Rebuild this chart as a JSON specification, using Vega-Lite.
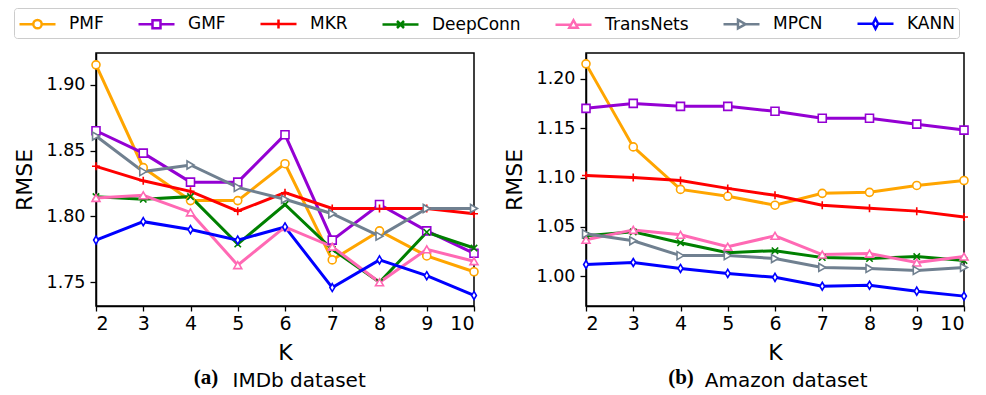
{
  "$schema": "https://vega.github.io/schema/vega-lite/v6.json",
  "padding": {"left": 12, "top": 7, "right": 5, "bottom": 0},
  "background": "white",
  "spacing": 20,
  "resolve": {"scale": {"x": "independent", "y": "independent"}},
  "config": {
    "view": {"stroke": "black", "strokeWidth": 1.5},
    "axis": {"domainColor": "black", "domainWidth": 1.5, "tickColor": "black", "tickWidth": 1.3, "labelColor": "black", "labelFont": "DejaVu Sans", "titleFont": "DejaVu Sans", "titleFontSize": 22, "titleFontWeight": "normal", "titleColor": "black", "grid": false},
    "axisX": {"titlePadding": 9, "labelFontSize": 19, "tickSize": 5, "labelPadding": 3},
    "axisY": {"titlePadding": 10, "labelFontSize": 17.5, "tickSize": 6, "labelPadding": 5},
    "title": {"color": "black"}
  },
  "datasets": {
    "imdb": [
      {"model":"PMF","K":2,"rmse":1.915},{"model":"PMF","K":3,"rmse":1.837},{"model":"PMF","K":4,"rmse":1.812},{"model":"PMF","K":5,"rmse":1.812},{"model":"PMF","K":6,"rmse":1.840},{"model":"PMF","K":7,"rmse":1.767},{"model":"PMF","K":8,"rmse":1.789},{"model":"PMF","K":9,"rmse":1.770},{"model":"PMF","K":10,"rmse":1.758},
      {"model":"GMF","K":2,"rmse":1.865},{"model":"GMF","K":3,"rmse":1.848},{"model":"GMF","K":4,"rmse":1.826},{"model":"GMF","K":5,"rmse":1.826},{"model":"GMF","K":6,"rmse":1.862},{"model":"GMF","K":7,"rmse":1.782},{"model":"GMF","K":8,"rmse":1.809},{"model":"GMF","K":9,"rmse":1.789},{"model":"GMF","K":10,"rmse":1.772},
      {"model":"MKR","K":2,"rmse":1.838},{"model":"MKR","K":3,"rmse":1.827},{"model":"MKR","K":4,"rmse":1.819},{"model":"MKR","K":5,"rmse":1.804},{"model":"MKR","K":6,"rmse":1.818},{"model":"MKR","K":7,"rmse":1.806},{"model":"MKR","K":8,"rmse":1.806},{"model":"MKR","K":9,"rmse":1.806},{"model":"MKR","K":10,"rmse":1.802},
      {"model":"DeepConn","K":2,"rmse":1.815},{"model":"DeepConn","K":3,"rmse":1.813},{"model":"DeepConn","K":4,"rmse":1.815},{"model":"DeepConn","K":5,"rmse":1.779},{"model":"DeepConn","K":6,"rmse":1.809},{"model":"DeepConn","K":7,"rmse":1.775},{"model":"DeepConn","K":8,"rmse":1.750},{"model":"DeepConn","K":9,"rmse":1.788},{"model":"DeepConn","K":10,"rmse":1.776},
      {"model":"TransNets","K":2,"rmse":1.814},{"model":"TransNets","K":3,"rmse":1.816},{"model":"TransNets","K":4,"rmse":1.803},{"model":"TransNets","K":5,"rmse":1.763},{"model":"TransNets","K":6,"rmse":1.792},{"model":"TransNets","K":7,"rmse":1.777},{"model":"TransNets","K":8,"rmse":1.750},{"model":"TransNets","K":9,"rmse":1.775},{"model":"TransNets","K":10,"rmse":1.766},
      {"model":"MPCN","K":2,"rmse":1.861},{"model":"MPCN","K":3,"rmse":1.834},{"model":"MPCN","K":4,"rmse":1.839},{"model":"MPCN","K":5,"rmse":1.822},{"model":"MPCN","K":6,"rmse":1.813},{"model":"MPCN","K":7,"rmse":1.802},{"model":"MPCN","K":8,"rmse":1.785},{"model":"MPCN","K":9,"rmse":1.806},{"model":"MPCN","K":10,"rmse":1.806},
      {"model":"KANN","K":2,"rmse":1.782},{"model":"KANN","K":3,"rmse":1.796},{"model":"KANN","K":4,"rmse":1.790},{"model":"KANN","K":5,"rmse":1.782},{"model":"KANN","K":6,"rmse":1.792},{"model":"KANN","K":7,"rmse":1.746},{"model":"KANN","K":8,"rmse":1.767},{"model":"KANN","K":9,"rmse":1.755},{"model":"KANN","K":10,"rmse":1.740}
    ],
    "amazon": [
      {"model":"PMF","K":2,"rmse":1.215},{"model":"PMF","K":3,"rmse":1.131},{"model":"PMF","K":4,"rmse":1.088},{"model":"PMF","K":5,"rmse":1.081},{"model":"PMF","K":6,"rmse":1.072},{"model":"PMF","K":7,"rmse":1.084},{"model":"PMF","K":8,"rmse":1.085},{"model":"PMF","K":9,"rmse":1.092},{"model":"PMF","K":10,"rmse":1.097},
      {"model":"GMF","K":2,"rmse":1.170},{"model":"GMF","K":3,"rmse":1.175},{"model":"GMF","K":4,"rmse":1.172},{"model":"GMF","K":5,"rmse":1.172},{"model":"GMF","K":6,"rmse":1.167},{"model":"GMF","K":7,"rmse":1.160},{"model":"GMF","K":8,"rmse":1.160},{"model":"GMF","K":9,"rmse":1.154},{"model":"GMF","K":10,"rmse":1.148},
      {"model":"MKR","K":2,"rmse":1.102},{"model":"MKR","K":3,"rmse":1.100},{"model":"MKR","K":4,"rmse":1.097},{"model":"MKR","K":5,"rmse":1.089},{"model":"MKR","K":6,"rmse":1.082},{"model":"MKR","K":7,"rmse":1.072},{"model":"MKR","K":8,"rmse":1.069},{"model":"MKR","K":9,"rmse":1.066},{"model":"MKR","K":10,"rmse":1.060},
      {"model":"DeepConn","K":2,"rmse":1.041},{"model":"DeepConn","K":3,"rmse":1.045},{"model":"DeepConn","K":4,"rmse":1.034},{"model":"DeepConn","K":5,"rmse":1.024},{"model":"DeepConn","K":6,"rmse":1.026},{"model":"DeepConn","K":7,"rmse":1.019},{"model":"DeepConn","K":8,"rmse":1.018},{"model":"DeepConn","K":9,"rmse":1.020},{"model":"DeepConn","K":10,"rmse":1.016},
      {"model":"TransNets","K":2,"rmse":1.037},{"model":"TransNets","K":3,"rmse":1.047},{"model":"TransNets","K":4,"rmse":1.042},{"model":"TransNets","K":5,"rmse":1.030},{"model":"TransNets","K":6,"rmse":1.041},{"model":"TransNets","K":7,"rmse":1.022},{"model":"TransNets","K":8,"rmse":1.023},{"model":"TransNets","K":9,"rmse":1.014},{"model":"TransNets","K":10,"rmse":1.020},
      {"model":"MPCN","K":2,"rmse":1.043},{"model":"MPCN","K":3,"rmse":1.036},{"model":"MPCN","K":4,"rmse":1.021},{"model":"MPCN","K":5,"rmse":1.021},{"model":"MPCN","K":6,"rmse":1.018},{"model":"MPCN","K":7,"rmse":1.009},{"model":"MPCN","K":8,"rmse":1.008},{"model":"MPCN","K":9,"rmse":1.006},{"model":"MPCN","K":10,"rmse":1.009},
      {"model":"KANN","K":2,"rmse":1.012},{"model":"KANN","K":3,"rmse":1.014},{"model":"KANN","K":4,"rmse":1.008},{"model":"KANN","K":5,"rmse":1.003},{"model":"KANN","K":6,"rmse":0.999},{"model":"KANN","K":7,"rmse":0.990},{"model":"KANN","K":8,"rmse":0.991},{"model":"KANN","K":9,"rmse":0.985},{"model":"KANN","K":10,"rmse":0.980}
    ]
  },
  "hconcat": [
    {
      "title": {"text": "IMDb dataset", "orient": "bottom", "anchor": "middle", "font": "DejaVu Sans", "fontWeight": "normal", "fontSize": 20, "dx": 52, "dy": -18, "offset": 0},
      "vconcat": [
        {
          "title": {"text": "(a)", "orient": "bottom", "anchor": "middle", "font": "Liberation Serif", "fontWeight": "bold", "fontSize": 21, "dx": -79, "offset": 4},
          "width": 378, "height": 253,
          "data": {"name": "imdb"},
          "encoding": {
            "x": {"field": "K", "type": "quantitative", "scale": {"domain": [2, 10], "nice": false, "zero": false}, "axis": {"values": [2,3,4,5,6,7,8,9,10], "title": "K"}},
            "y": {"field": "rmse", "type": "quantitative", "scale": {"domain": [1.732, 1.924], "nice": false, "zero": false}, "axis": {"values": [1.75, 1.8, 1.85, 1.9], "format": ".2f", "title": "RMSE"}}
          },
          "layer": [
            {
              "mark": {"type": "line", "strokeWidth": 3},
              "encoding": {
                "color": {"field": "model", "type": "nominal",
                  "scale": {"domain": ["PMF","GMF","MKR","DeepConn","TransNets","MPCN","KANN"], "range": ["#FFA500","#9400D3","#FF0000","#008000","#FF69B4","#708090","#0000FF"]},
                  "legend": {"orient": "none", "legendX": -82, "legendY": -45, "direction": "horizontal", "columns": 7, "title": null, "symbolSize": 400, "symbolStrokeWidth": 2.5, "symbolFillColor": "white", "labelFontSize": 17, "labelFont": "DejaVu Sans", "labelColor": "black", "labelOffset": 28, "columnPadding": 29, "padding": 4, "strokeColor": "#cccccc", "cornerRadius": 3, "fillColor": "white",
                    "encode": {"symbols": {"update": {"fill": {"value": "white"}, "shape": {"signal": "datum.value === 'PMF' ? 'M-1,0H0.38M1.22,0H2.6M1.22,0A0.42,0.42,0,1,1,0.38,0A0.42,0.42,0,1,1,1.22,0Z' : datum.value === 'GMF' ? 'M-1,0H0.4M1.2,0H2.6M0.4,-0.4H1.2V0.4H0.4Z' : datum.value === 'MKR' ? 'M-1,0H2.6M0.8,-0.45V0.45' : datum.value === 'DeepConn' ? 'M-1,0H2.6M0.45,-0.35L1.15,0.35M0.45,0.35L1.15,-0.35' : datum.value === 'TransNets' ? 'M-1,0H0.55M1.05,0H2.6M0.8,-0.45L1.22,0.3H0.38Z' : datum.value === 'MPCN' ? 'M-1,0H0.45M1.2,0H2.6M0.45,-0.42L1.2,0L0.45,0.42Z' : 'M-1,0H0.54M1.06,0H2.6M0.8,-0.5L1.06,0L0.8,0.5L0.54,0Z'"}}}}
                  }
                }
              }
            },
            {"transform": [{"filter": "datum.model === 'PMF'"}], "mark": {"type": "point", "shape": "circle", "filled": true, "fill": "white", "stroke": "#FFA500", "size": 64, "strokeWidth": 1.6, "opacity": 1}},
            {"transform": [{"filter": "datum.model === 'GMF'"}], "mark": {"type": "point", "shape": "square", "filled": true, "fill": "white", "stroke": "#9400D3", "size": 64, "strokeWidth": 1.6, "opacity": 1}},
            {"transform": [{"filter": "datum.model === 'MKR'"}], "mark": {"type": "point", "shape": "M-1,0H1M0,-1V1", "filled": true, "fill": "white", "stroke": "#FF0000", "size": 64, "strokeWidth": 1.6, "opacity": 1}},
            {"transform": [{"filter": "datum.model === 'DeepConn'"}], "mark": {"type": "point", "shape": "M-0.8,-0.8L0.8,0.8M-0.8,0.8L0.8,-0.8", "filled": true, "fill": "white", "stroke": "#008000", "size": 64, "strokeWidth": 1.6, "opacity": 1}},
            {"transform": [{"filter": "datum.model === 'TransNets'"}], "mark": {"type": "point", "shape": "triangle-up", "filled": true, "fill": "white", "stroke": "#FF69B4", "size": 64, "strokeWidth": 1.6, "opacity": 1}},
            {"transform": [{"filter": "datum.model === 'MPCN'"}], "mark": {"type": "point", "shape": "triangle-right", "filled": true, "fill": "white", "stroke": "#708090", "size": 64, "strokeWidth": 1.6, "opacity": 1}},
            {"transform": [{"filter": "datum.model === 'KANN'"}], "mark": {"type": "point", "shape": "M0,-1L0.6,0L0,1L-0.6,0Z", "filled": true, "fill": "white", "stroke": "#0000FF", "size": 64, "strokeWidth": 1.6, "opacity": 1}}
          ]
        }
      ]
    },
    {
      "title": {"text": "Amazon dataset", "orient": "bottom", "anchor": "middle", "font": "DejaVu Sans", "fontWeight": "normal", "fontSize": 20, "dx": 49, "dy": -18, "offset": 0},
      "vconcat": [
        {
          "title": {"text": "(b)", "orient": "bottom", "anchor": "middle", "font": "Liberation Serif", "fontWeight": "bold", "fontSize": 21, "dx": -94, "offset": 4},
          "width": 378, "height": 253,
          "data": {"name": "amazon"},
          "encoding": {
            "x": {"field": "K", "type": "quantitative", "scale": {"domain": [2, 10], "nice": false, "zero": false}, "axis": {"values": [2,3,4,5,6,7,8,9,10], "title": "K"}},
            "y": {"field": "rmse", "type": "quantitative", "scale": {"domain": [0.970, 1.226], "nice": false, "zero": false}, "axis": {"values": [1.0, 1.05, 1.1, 1.15, 1.2], "format": ".2f", "title": "RMSE"}}
          },
          "layer": [
            {
              "mark": {"type": "line", "strokeWidth": 3},
              "encoding": {
                "color": {"field": "model", "type": "nominal", "scale": {"domain": ["PMF","GMF","MKR","DeepConn","TransNets","MPCN","KANN"], "range": ["#FFA500","#9400D3","#FF0000","#008000","#FF69B4","#708090","#0000FF"]}}
              }
            },
            {"transform": [{"filter": "datum.model === 'PMF'"}], "mark": {"type": "point", "shape": "circle", "filled": true, "fill": "white", "stroke": "#FFA500", "size": 64, "strokeWidth": 1.6, "opacity": 1}},
            {"transform": [{"filter": "datum.model === 'GMF'"}], "mark": {"type": "point", "shape": "square", "filled": true, "fill": "white", "stroke": "#9400D3", "size": 64, "strokeWidth": 1.6, "opacity": 1}},
            {"transform": [{"filter": "datum.model === 'MKR'"}], "mark": {"type": "point", "shape": "M-1,0H1M0,-1V1", "filled": true, "fill": "white", "stroke": "#FF0000", "size": 64, "strokeWidth": 1.6, "opacity": 1}},
            {"transform": [{"filter": "datum.model === 'DeepConn'"}], "mark": {"type": "point", "shape": "M-0.8,-0.8L0.8,0.8M-0.8,0.8L0.8,-0.8", "filled": true, "fill": "white", "stroke": "#008000", "size": 64, "strokeWidth": 1.6, "opacity": 1}},
            {"transform": [{"filter": "datum.model === 'TransNets'"}], "mark": {"type": "point", "shape": "triangle-up", "filled": true, "fill": "white", "stroke": "#FF69B4", "size": 64, "strokeWidth": 1.6, "opacity": 1}},
            {"transform": [{"filter": "datum.model === 'MPCN'"}], "mark": {"type": "point", "shape": "triangle-right", "filled": true, "fill": "white", "stroke": "#708090", "size": 64, "strokeWidth": 1.6, "opacity": 1}},
            {"transform": [{"filter": "datum.model === 'KANN'"}], "mark": {"type": "point", "shape": "M0,-1L0.6,0L0,1L-0.6,0Z", "filled": true, "fill": "white", "stroke": "#0000FF", "size": 64, "strokeWidth": 1.6, "opacity": 1}}
          ]
        }
      ]
    }
  ]
}
